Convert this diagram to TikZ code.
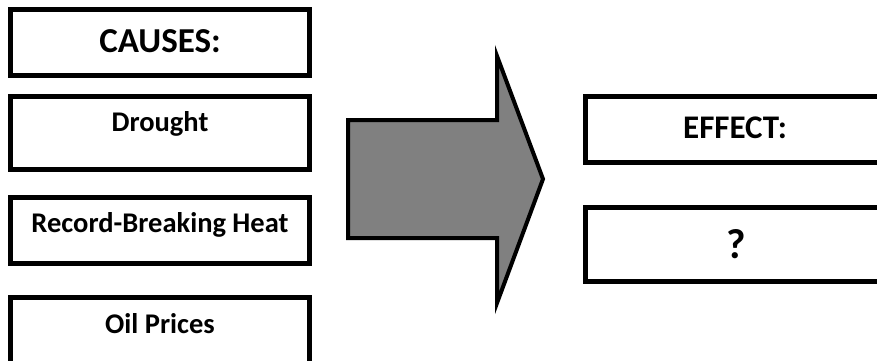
\documentclass[tikz,border=0pt]{standalone}
\usepackage{fontspec}
\setmainfont{Carlito}
\begin{document}
\begin{tikzpicture}[x=1pt,y=-1pt,
  box/.style={draw=black,line width=5pt,fill=white,inner sep=0pt,outer sep=0pt,rectangle},
  lbl/.style={anchor=base,inner sep=0pt},
  bigarrow/.style={draw=black,line width=4pt,fill=black!50,line join=miter}]
\useasboundingbox (0,0) rectangle (877,360);
\begin{scope}
\clip (0,0) rectangle (877,360);
% cause boxes
\node[box,minimum width=299pt,minimum height=66pt] (causes) at (160,42.5) {};
\node[box,minimum width=299pt,minimum height=73pt] (drought) at (160,133) {};
\node[box,minimum width=299pt,minimum height=66pt] (heat) at (160,230.5) {};
\node[box,minimum width=299pt,minimum height=70pt] (oil) at (160,332.5) {};
% effect boxes
\node[box,minimum width=310pt,minimum height=66pt] (effect) at (740.5,129.5) {};
\node[box,minimum width=310pt,minimum height=74pt] (answer) at (740.5,244.5) {};
% block arrow
\draw[bigarrow] (348,120) -- (497,120) -- (497,56) -- (543,179) -- (497,303) -- (497,238) -- (348,238) -- cycle;
\end{scope}
% labels
\node[lbl,font=\bfseries\fontsize{35}{38}\selectfont] (tcauses) at (160,52) {CAUSES:};
\node[lbl,font=\bfseries\fontsize{28.5}{30}\selectfont] (tdrought) at (160,131) {Drought};
\node[lbl,font=\bfseries\fontsize{28.5}{30}\selectfont] (theat) at (160,232) {Record-Breaking Heat};
\node[lbl,font=\bfseries\fontsize{28.5}{30}\selectfont] (toil) at (160,333) {Oil Prices};
\node[lbl,font=\bfseries\fontsize{33}{36}\selectfont] (teffect) at (735,138) {EFFECT:};
\node[lbl,font=\bfseries\fontsize{42}{44}\selectfont] (tanswer) at (736,258) {?};
\end{tikzpicture}
\end{document}
